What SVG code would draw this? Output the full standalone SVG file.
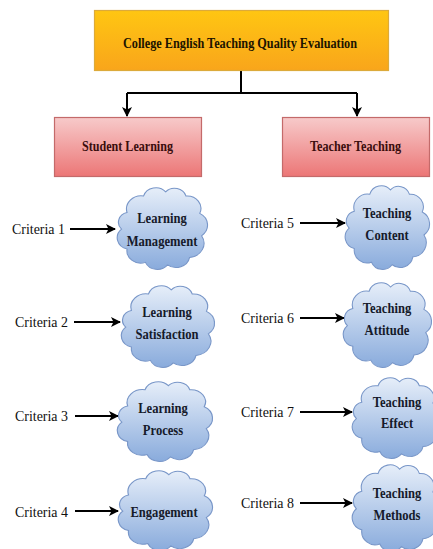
<svg xmlns="http://www.w3.org/2000/svg" xmlns:xlink="http://www.w3.org/1999/xlink" width="433" height="549" viewBox="0 0 433 549" font-family="'Liberation Serif', 'DejaVu Serif', serif">
<style>
text{font-family:"Liberation Serif","DejaVu Serif",serif;}
.t{font-weight:bold;}
.title{font-size:15px;fill:#1c1400;}
.box{font-size:15px;fill:#3a0d0d;}
.cl{font-size:15px;fill:#161a2a;text-anchor:middle;}
.cr{font-size:15px;fill:#111;}
.ln{stroke:#000;stroke-width:2;fill:none;}
.cloud{fill:url(#gc);stroke:#7896c8;stroke-width:1.2;}
</style>
<defs>
<linearGradient id="go" x1="0" y1="0" x2="0" y2="1">
<stop offset="0" stop-color="#ffc612"/><stop offset="1" stop-color="#f9a51b"/>
</linearGradient>
<linearGradient id="gp" x1="0" y1="0" x2="0" y2="1">
<stop offset="0" stop-color="#f7caca"/><stop offset="1" stop-color="#ec7676"/>
</linearGradient>
<linearGradient id="gc" x1="0" y1="0" x2="0" y2="1">
<stop offset="0" stop-color="#e6eef9"/><stop offset="1" stop-color="#89abdc"/>
</linearGradient>
<marker id="ah" markerWidth="10" markerHeight="10" refX="9" refY="5" orient="auto" markerUnits="userSpaceOnUse">
<path d="M0,0 L10,5 L0,10 L2.5,5 Z" fill="#000"/>
</marker>
<path id="cp" d="M12 32 A16 16 0 0 1 30 12 A14 14 0 0 1 54 7 A13 13 0 0 1 76 12 A15 15 0 0 1 91 33 A16 16 0 0 1 93 60 A17 17 0 0 1 80 86 A15 15 0 0 1 56 95 A14 14 0 0 1 32 92 A15 15 0 0 1 12 76 A14 14 0 0 1 6 52 A12 12 0 0 1 12 32 Z"/>
</defs>

<g id="connectors">
<path class="ln" d="M241 71 V93 M127 93 H357"/>
<path class="ln" d="M127 93 V116" marker-end="url(#ah)"/>
<path class="ln" d="M357 93 V116" marker-end="url(#ah)"/>
<path class="ln" d="M70 229 H115" marker-end="url(#ah)"/>
<path class="ln" d="M74 322 H120" marker-end="url(#ah)"/>
<path class="ln" d="M75 416 H118" marker-end="url(#ah)"/>
<path class="ln" d="M75 511 H118" marker-end="url(#ah)"/>
<path class="ln" d="M300 223 H345" marker-end="url(#ah)"/>
<path class="ln" d="M300 318 H344" marker-end="url(#ah)"/>
<path class="ln" d="M300 412 H352" marker-end="url(#ah)"/>
<path class="ln" d="M300 503 H352" marker-end="url(#ah)"/>
</g>

<g id="root">
<rect x="94.5" y="10.5" width="294" height="60" fill="url(#go)" stroke="#dcaa3a" stroke-width="1.2"/>
<text class="t title" x="123" y="48" textLength="234" lengthAdjust="spacingAndGlyphs">College English Teaching Quality Evaluation</text>
</g>

<g id="student">
<rect x="54.5" y="117.5" width="147" height="59" fill="url(#gp)" stroke="#c46a6a" stroke-width="1.2"/>
<text class="t box" x="82" y="151" textLength="91" lengthAdjust="spacingAndGlyphs">Student Learning</text>
</g>

<g id="teacher">
<rect x="282.5" y="117.5" width="147" height="59" fill="url(#gp)" stroke="#c46a6a" stroke-width="1.2"/>
<text class="t box" x="310" y="151" textLength="91" lengthAdjust="spacingAndGlyphs">Teacher Teaching</text>
</g>

<g id="c1"><text class="cr" x="12" y="234" textLength="53" lengthAdjust="spacingAndGlyphs">Criteria 1</text></g>
<g id="c2"><text class="cr" x="15" y="327" textLength="53" lengthAdjust="spacingAndGlyphs">Criteria 2</text></g>
<g id="c3"><text class="cr" x="15" y="421" textLength="53" lengthAdjust="spacingAndGlyphs">Criteria 3</text></g>
<g id="c4"><text class="cr" x="15" y="517" textLength="53" lengthAdjust="spacingAndGlyphs">Criteria 4</text></g>
<g id="c5"><text class="cr" x="241" y="228" textLength="53" lengthAdjust="spacingAndGlyphs">Criteria 5</text></g>
<g id="c6"><text class="cr" x="241" y="323" textLength="53" lengthAdjust="spacingAndGlyphs">Criteria 6</text></g>
<g id="c7"><text class="cr" x="241" y="417" textLength="53" lengthAdjust="spacingAndGlyphs">Criteria 7</text></g>
<g id="c8"><text class="cr" x="241" y="508" textLength="53" lengthAdjust="spacingAndGlyphs">Criteria 8</text></g>

<g id="n1">
<use xlink:href="#cp" class="cloud" transform="translate(116 186) scale(0.92 0.83)"/>
<text class="t cl" transform="translate(162 223) scale(0.84 1)">Learning</text>
<text class="t cl" transform="translate(162 246) scale(0.84 1)">Management</text>
</g>
<g id="n2">
<use xlink:href="#cp" class="cloud" transform="translate(120 284) scale(0.95 0.83)"/>
<text class="t cl" transform="translate(167 317) scale(0.84 1)">Learning</text>
<text class="t cl" transform="translate(167 339) scale(0.84 1)">Satisfaction</text>
</g>
<g id="n3">
<use xlink:href="#cp" class="cloud" transform="translate(116 380) scale(0.97 0.81)"/>
<text class="t cl" transform="translate(163 413) scale(0.84 1)">Learning</text>
<text class="t cl" transform="translate(163 435) scale(0.84 1)">Process</text>
</g>
<g id="n4">
<use xlink:href="#cp" class="cloud" transform="translate(117 469) scale(0.96 0.81)"/>
<text class="t cl" transform="translate(164 517) scale(0.84 1)">Engagement</text>
</g>
<g id="n5">
<use xlink:href="#cp" class="cloud" transform="translate(344 184) scale(0.86 0.85)"/>
<text class="t cl" transform="translate(387 218) scale(0.84 1)">Teaching</text>
<text class="t cl" transform="translate(387 240) scale(0.84 1)">Content</text>
</g>
<g id="n6">
<use xlink:href="#cp" class="cloud" transform="translate(342 281) scale(0.9 0.86)"/>
<text class="t cl" transform="translate(387 313) scale(0.84 1)">Teaching</text>
<text class="t cl" transform="translate(387 335) scale(0.84 1)">Attitude</text>
</g>
<g id="n7">
<use xlink:href="#cp" class="cloud" transform="translate(351 376) scale(0.9 0.82)"/>
<text class="t cl" transform="translate(397 407) scale(0.84 1)">Teaching</text>
<text class="t cl" transform="translate(397 428) scale(0.84 1)">Effect</text>
</g>
<g id="n8">
<use xlink:href="#cp" class="cloud" transform="translate(351 463) scale(0.9 0.88)"/>
<text class="t cl" transform="translate(397 498) scale(0.84 1)">Teaching</text>
<text class="t cl" transform="translate(397 520) scale(0.84 1)">Methods</text>
</g>
</svg>
